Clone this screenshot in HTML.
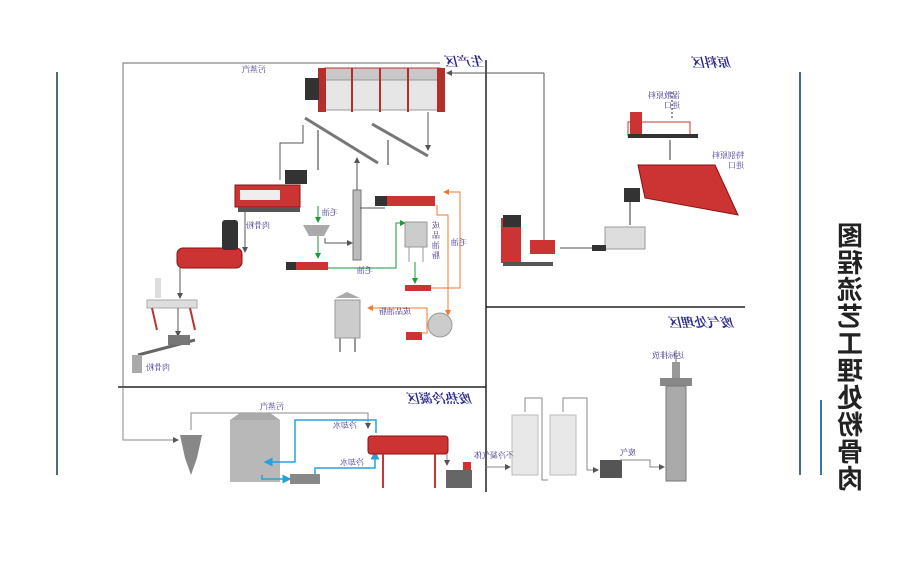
<!DOCTYPE html>
<html><head><meta charset="utf-8">
<style>
html,body{margin:0;padding:0;background:#fff;}
svg{display:block;}
text{font-family:"Liberation Serif","Noto Serif CJK SC","Noto Sans CJK SC",serif;}
.lb{fill:#3a2f8f;font-size:8px;}
.zt{fill:#2d2a8c;font-size:13px;font-weight:bold;font-style:italic;}
</style></head><body>
<svg width="920" height="573" viewBox="0 0 920 573" xmlns="http://www.w3.org/2000/svg">
<defs>
<marker id="ag" markerWidth="6" markerHeight="6" refX="5" refY="3" orient="auto"><path d="M0,0 L6,3 L0,6z" fill="#555"/></marker>
<marker id="agr" markerWidth="6" markerHeight="6" refX="5" refY="3" orient="auto"><path d="M0,0 L6,3 L0,6z" fill="#1a9a3a"/></marker>
<marker id="ao" markerWidth="6" markerHeight="6" refX="5" refY="3" orient="auto"><path d="M0,0 L6,3 L0,6z" fill="#f07a30"/></marker>
<marker id="ab" markerWidth="6" markerHeight="6" refX="5" refY="3" orient="auto"><path d="M0,0 L6,3 L0,6z" fill="#2aa0d8"/></marker>
</defs>
<rect width="920" height="573" fill="#fff"/>
<!-- outer decorative lines -->
<line x1="57" y1="72" x2="57" y2="475" stroke="#4a6b86" stroke-width="2"/>
<line x1="800" y1="72" x2="800" y2="475" stroke="#4a6b86" stroke-width="2"/>
<!-- frame -->
<polyline points="440,63 123,63 123,387" fill="none" stroke="#888" stroke-width="1.2"/>
<line x1="118" y1="387" x2="486" y2="387" stroke="#222" stroke-width="1.5"/>
<line x1="486" y1="60" x2="486" y2="492" stroke="#222" stroke-width="1.5"/>
<line x1="486" y1="307" x2="745" y2="307" stroke="#222" stroke-width="1.5"/>
<line x1="486" y1="73" x2="544" y2="73" stroke="#555" stroke-width="1"/>
<polyline points="544,73 544,240" fill="none" stroke="#555" stroke-width="1"/>
<polyline points="486,73 447,73" fill="none" stroke="#555" marker-end="url(#ag)"/>
<!-- zone titles (mirrored) -->
<text class="zt" text-anchor="middle" transform="translate(465,66) scale(-1,1)">生产区</text>
<text class="zt" text-anchor="middle" transform="translate(712,67) scale(-1,1)">原料区</text>
<text class="zt" text-anchor="middle" transform="translate(702,327) scale(-1,1)">废气处理区</text>
<text class="zt" text-anchor="middle" transform="translate(440,403) scale(-1,1)">废热冷凝区</text>
<!-- vertical title -->
<g font-size="26" font-weight="bold" fill="#222">
<text text-anchor="middle" transform="translate(850,245) scale(-1,1)" style="font-family:'Noto Sans CJK SC',sans-serif">图</text>
<text text-anchor="middle" transform="translate(850,272) scale(-1,1)" style="font-family:'Noto Sans CJK SC',sans-serif">程</text>
<text text-anchor="middle" transform="translate(850,299) scale(-1,1)" style="font-family:'Noto Sans CJK SC',sans-serif">流</text>
<text text-anchor="middle" transform="translate(850,326) scale(-1,1)" style="font-family:'Noto Sans CJK SC',sans-serif">艺</text>
<text text-anchor="middle" transform="translate(850,353) scale(-1,1)" style="font-family:'Noto Sans CJK SC',sans-serif">工</text>
<text text-anchor="middle" transform="translate(850,380) scale(-1,1)" style="font-family:'Noto Sans CJK SC',sans-serif">理</text>
<text text-anchor="middle" transform="translate(850,407) scale(-1,1)" style="font-family:'Noto Sans CJK SC',sans-serif">处</text>
<text text-anchor="middle" transform="translate(850,434) scale(-1,1)" style="font-family:'Noto Sans CJK SC',sans-serif">粉</text>
<text text-anchor="middle" transform="translate(850,461) scale(-1,1)" style="font-family:'Noto Sans CJK SC',sans-serif">骨</text>
<text text-anchor="middle" transform="translate(850,488) scale(-1,1)" style="font-family:'Noto Sans CJK SC',sans-serif">肉</text>
</g>
<line x1="821" y1="400" x2="821" y2="475" stroke="#2e7d99" stroke-width="2"/>

<!-- ===== production zone ===== -->
<!-- cooker at top -->
<rect x="325" y="68" width="115" height="12" fill="#c8c8c8" stroke="#b33"/>
<rect x="325" y="80" width="115" height="30" fill="#e6e6e6" stroke="#999"/>
<rect x="318" y="68" width="8" height="44" fill="#b3302a"/>
<rect x="437" y="68" width="8" height="44" fill="#b3302a"/>
<line x1="352" y1="68" x2="352" y2="112" stroke="#b3302a" stroke-width="2"/>
<line x1="380" y1="68" x2="380" y2="112" stroke="#b3302a" stroke-width="2"/>
<line x1="408" y1="68" x2="408" y2="112" stroke="#b3302a" stroke-width="2"/>
<rect x="305" y="78" width="14" height="22" fill="#333"/>
<text class="lb" text-anchor="middle" transform="translate(254,72) scale(-1,1)">污蒸汽</text>
<!-- conveyors -->
<line x1="305" y1="118" x2="378" y2="163" stroke="#777" stroke-width="3"/>
<line x1="372" y1="124" x2="428" y2="156" stroke="#777" stroke-width="3"/>
<line x1="318" y1="130" x2="318" y2="170" stroke="#777" stroke-width="1.5"/>
<line x1="388" y1="140" x2="388" y2="165" stroke="#777" stroke-width="1.5"/>
<polyline points="428,112 428,150" fill="none" stroke="#555" marker-end="url(#ag)"/>
<polyline points="303,125 303,143 280,143 280,180" fill="none" stroke="#555"/>
<!-- press -->
<rect x="235" y="185" width="65" height="22" fill="#c33" stroke="#811"/>
<rect x="240" y="190" width="40" height="10" fill="#eee"/>
<rect x="285" y="170" width="22" height="14" fill="#333"/>
<rect x="238" y="207" width="62" height="5" fill="#555"/>
<polyline points="245,210 245,252" fill="none" stroke="#555" marker-end="url(#ag)"/>
<text class="lb" text-anchor="middle" transform="translate(258,228) scale(-1,1)">肉骨粉</text>
<!-- dryer -->
<rect x="177" y="248" width="65" height="20" rx="6" fill="#c33" stroke="#811"/>
<rect x="222" y="220" width="16" height="30" fill="#333" rx="3"/>
<polyline points="180,268 180,298" fill="none" stroke="#555" marker-end="url(#ag)"/>
<!-- sieve -->
<rect x="147" y="300" width="50" height="8" fill="#ddd" stroke="#aaa"/>
<rect x="155" y="278" width="6" height="20" fill="#ddd"/>
<line x1="152" y1="308" x2="157" y2="330" stroke="#b33" stroke-width="2"/>
<line x1="190" y1="308" x2="195" y2="330" stroke="#b33" stroke-width="2"/>
<polyline points="178,308 178,336" fill="none" stroke="#555" marker-end="url(#ag)"/>
<line x1="138" y1="355" x2="195" y2="340" stroke="#666" stroke-width="3"/>
<rect x="168" y="335" width="22" height="10" fill="#777"/>
<rect x="132" y="355" width="10" height="18" fill="#aaa"/>
<text class="lb" text-anchor="middle" transform="translate(158,370) scale(-1,1)">肉骨粉</text>
<!-- oil section -->
<polyline points="318,206 318,222" fill="none" stroke="#1a9a3a" marker-end="url(#agr)"/>
<text class="lb" text-anchor="middle" transform="translate(330,215) scale(-1,1)">毛油</text>
<path d="M303,225 L330,225 L324,236 L309,236z" fill="#aaa"/>
<polyline points="318,236 318,258" fill="none" stroke="#1a9a3a" marker-end="url(#agr)"/>
<polyline points="325,238 325,243 352,243" fill="none" stroke="#555" marker-end="url(#ag)"/>
<rect x="288" y="262" width="40" height="8" fill="#c33"/>
<rect x="286" y="262" width="10" height="8" fill="#333"/>
<polyline points="328,268 396,268 396,223 405,223" fill="none" stroke="#1a9a3a" marker-end="url(#agr)"/>
<text class="lb" text-anchor="middle" transform="translate(365,273) scale(-1,1)">毛油</text>
<!-- decanter column -->
<rect x="353" y="190" width="8" height="70" fill="#bbb" stroke="#777"/>
<polyline points="357,190 357,158" fill="none" stroke="#555" marker-end="url(#ag)"/>
<polyline points="385,208 360,208" fill="none" stroke="#555"/>
<rect x="385" y="196" width="50" height="10" fill="#c33"/>
<rect x="375" y="196" width="12" height="10" fill="#333"/>
<!-- tanks -->
<rect x="405" y="222" width="22" height="25" fill="#ccc" stroke="#999"/>
<line x1="409" y1="247" x2="409" y2="262" stroke="#999"/>
<line x1="423" y1="247" x2="423" y2="262" stroke="#999"/>
<text class="lb" transform="translate(440,228) scale(-1,1)">成</text>
<text class="lb" transform="translate(440,238) scale(-1,1)">品</text>
<text class="lb" transform="translate(440,248) scale(-1,1)">油</text>
<text class="lb" transform="translate(440,258) scale(-1,1)">脂</text>
<polyline points="415,262 415,283" fill="none" stroke="#1a9a3a" marker-end="url(#agr)"/>
<rect x="405" y="285" width="26" height="6" fill="#c33"/>
<polyline points="431,288 460,288 460,192 444,192" fill="none" stroke="#f07a30" marker-end="url(#ao)"/>
<text class="lb" transform="translate(467,245) scale(-1,1)">毛油</text>
<polyline points="437,205 437,215 448,215 448,315" fill="none" stroke="#f07a30" marker-end="url(#ao)"/>
<ellipse cx="440" cy="325" rx="12" ry="12" fill="#ccc" stroke="#999"/>
<rect x="406" y="332" width="16" height="8" fill="#c33"/>
<polyline points="420,333 427,333 427,308 368,308" fill="none" stroke="#f07a30" marker-end="url(#ao)"/>
<text class="lb" text-anchor="middle" transform="translate(395,314) scale(-1,1)">成品油脂</text>
<rect x="335" y="300" width="25" height="38" fill="#ccc" stroke="#999"/>
<path d="M335,298 L347,292 L360,298z" fill="#aaa"/>
<line x1="340" y1="338" x2="340" y2="352" stroke="#999" stroke-width="2"/>
<line x1="355" y1="338" x2="355" y2="352" stroke="#999" stroke-width="2"/>

<!-- ===== raw material ===== -->
<text class="lb" transform="translate(680,98) scale(-1,1)">湿散原料</text>
<text class="lb" transform="translate(680,108) scale(-1,1)">进口</text>
<line x1="672" y1="92" x2="672" y2="118" stroke="#333" stroke-dasharray="2,2"/>
<rect x="628" y="122" width="62" height="14" fill="#fff" stroke="#c33"/>
<rect x="630" y="112" width="12" height="24" fill="#c33"/>
<rect x="628" y="134" width="70" height="4" fill="#333"/>
<line x1="670" y1="140" x2="670" y2="160" stroke="#333"/>
<text class="lb" transform="translate(744,158) scale(-1,1)">特别原料</text>
<text class="lb" transform="translate(744,168) scale(-1,1)">进口</text>
<path d="M638,165 L715,165 L738,215 L645,198z" fill="#c33" stroke="#811"/>
<rect x="624" y="188" width="16" height="14" fill="#333"/>
<line x1="630" y1="202" x2="630" y2="225" stroke="#333"/>
<rect x="605" y="227" width="40" height="22" fill="#ddd" stroke="#999"/>
<rect x="592" y="245" width="14" height="6" fill="#333"/>
<line x1="560" y1="248" x2="592" y2="248" stroke="#555"/>
<rect x="501" y="218" width="20" height="45" fill="#c33"/>
<rect x="503" y="215" width="18" height="12" fill="#333"/>
<rect x="530" y="240" width="25" height="14" fill="#c33"/>
<rect x="503" y="262" width="50" height="4" fill="#555"/>

<!-- ===== exhaust zone ===== -->
<rect x="512" y="415" width="26" height="60" fill="#e8e8e8" stroke="#bbb"/>
<rect x="550" y="415" width="26" height="60" fill="#e8e8e8" stroke="#bbb"/>
<polyline points="525,412 525,398 542,398 542,480 548,480" fill="none" stroke="#888"/>
<polyline points="563,412 563,398 587,398 587,470 598,470" fill="none" stroke="#888" marker-end="url(#ag)"/>
<rect x="600" y="460" width="22" height="18" fill="#555"/>
<polyline points="620,460 650,460 650,467 664,467" fill="none" stroke="#888" marker-end="url(#ag)"/>
<text class="lb" text-anchor="middle" transform="translate(628,455) scale(-1,1)">废气</text>
<rect x="660" y="378" width="32" height="8" fill="#888"/>
<rect x="666" y="386" width="20" height="95" fill="#aaa" stroke="#777"/>
<rect x="672" y="362" width="8" height="16" fill="#999"/>
<line x1="676" y1="362" x2="676" y2="350" stroke="#777"/>
<text class="lb" text-anchor="middle" transform="translate(668,358) scale(-1,1)">达标排放</text>
<polyline points="486,467 510,467" fill="none" stroke="#888" marker-end="url(#ag)"/>
<text class="lb" text-anchor="middle" transform="translate(494,458) scale(-1,1)">不冷凝气体</text>

<!-- ===== condense zone ===== -->
<polyline points="123,387 123,440 178,440" fill="none" stroke="#888" marker-end="url(#ag)"/>
<polyline points="191,430 191,413 368,413 368,428" fill="none" stroke="#888" marker-end="url(#ag)"/>
<text class="lb" text-anchor="middle" transform="translate(272,409) scale(-1,1)">污蒸汽</text>
<path d="M180,435 L202,435 L197,458 L191,475 L185,458z" fill="#888"/>
<rect x="230" y="420" width="50" height="62" fill="#b8b8b8"/>
<path d="M230,420 L240,413 L270,413 L280,420z" fill="#aaa"/>
<polyline points="376,433 376,420 295,420 295,462 265,462" fill="none" stroke="#2aa0d8" stroke-width="1.5" marker-end="url(#ab)"/>
<text class="lb" text-anchor="middle" transform="translate(345,428) scale(-1,1)">冷却水</text>
<polyline points="262,475 262,479 290,479" fill="none" stroke="#2aa0d8" stroke-width="1.5" marker-end="url(#ab)"/>
<rect x="290" y="474" width="30" height="10" fill="#888"/>
<polyline points="315,474 315,468 375,468 375,452" fill="none" stroke="#2aa0d8" stroke-width="1.5" marker-end="url(#ab)"/>
<text class="lb" text-anchor="middle" transform="translate(352,465) scale(-1,1)">冷却水</text>
<rect x="368" y="436" width="80" height="18" rx="3" fill="#c33" stroke="#811"/>
<line x1="383" y1="454" x2="383" y2="488" stroke="#c33" stroke-width="2"/>
<line x1="435" y1="454" x2="435" y2="488" stroke="#c33" stroke-width="2"/>
<polyline points="447,454 447,465" fill="none" stroke="#888" marker-end="url(#ag)"/>
<rect x="446" y="470" width="26" height="18" fill="#666"/>
<rect x="463" y="462" width="8" height="8" fill="#c33"/>
</svg>
</body></html>
